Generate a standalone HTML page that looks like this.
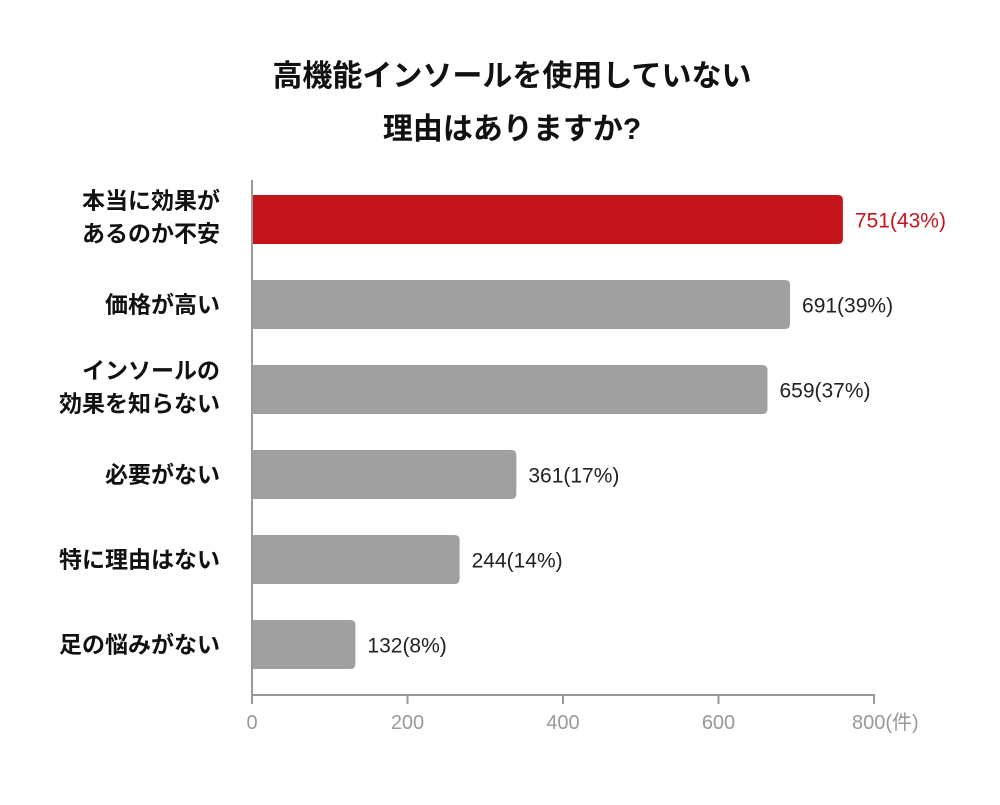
<!DOCTYPE html>
<html><head><meta charset="utf-8">
<style>
html,body{margin:0;padding:0;background:#fff;}
body{width:1000px;height:800px;overflow:hidden;font-family:"Liberation Sans","Noto Sans CJK JP",sans-serif;}
</style></head>
<body>
<svg id="chart" width="1000" height="800" xmlns="http://www.w3.org/2000/svg" font-family="Liberation Sans, Noto Sans CJK JP, sans-serif">
<text x="512" y="86" text-anchor="middle" font-size="30" font-weight="bold" fill="#111">高機能インソールを使用していない</text>
<text x="512" y="139" text-anchor="middle" font-size="30" font-weight="bold" fill="#111">理由はありますか?</text>
<g id="bars"></g>
<line x1="252" y1="180" x2="252" y2="695" stroke="#999" stroke-width="2"/>
<line x1="252" y1="695" x2="875" y2="695" stroke="#999" stroke-width="2"/>
<g id="ticks"></g>
</svg>
<script>
const categories = [["本当に効果が","あるのか不安"],["価格が高い"],["インソールの","効果を知らない"],["必要がない"],["特に理由はない"],["足の悩みがない"]];
const values = [760, 692, 663, 340, 267, 133];
const valueLabels = ["751(43%)","691(39%)","659(37%)","361(17%)","244(14%)","132(8%)"];
const tickValues = [0, 200, 400, 600, 800];
const tickLabels = ["0","200","400","600","800(件)"];

const NS = "http://www.w3.org/2000/svg";
const x0 = 252, x1 = 874, maxV = 800;
const xScale = v => x0 + (v / maxV) * (x1 - x0);
const barTop = i => 195 + i * 85;
const barH = 49;
const bars = document.getElementById("bars");
const ticks = document.getElementById("ticks");

function mk(tag, attrs){ const e = document.createElementNS(NS, tag); for (const k in attrs) e.setAttribute(k, attrs[k]); return e; }

values.forEach((v, i) => {
  const w = xScale(v) - x0, y = barTop(i), r = 5;
  const color = i === 0 ? "#c4151c" : "#a0a0a0";
  const p = mk("path", {d:`M${x0},${y} H${x0+w-r} Q${x0+w},${y} ${x0+w},${y+r} V${y+barH-r} Q${x0+w},${y+barH} ${x0+w-r},${y+barH} H${x0} Z`, fill: color});
  
  
  bars.appendChild(p);
  const t = mk("text", {x: xScale(v) + 12, y: y + barH/2 + 8, "font-size": 21, fill: i === 0 ? "#c4151c" : "#222"});
  t.textContent = valueLabels[i];
  
  
  bars.appendChild(t);
  const lines = categories[i];
  const cy = y + barH/2;
  lines.forEach((ln, j) => {
    const ly = lines.length === 1 ? cy + 8 : cy - 6 + j * 33 - 5;
    const ct = mk("text", {x: 220, y: ly, "text-anchor": "end", "font-size": 23, "font-weight": "bold", fill: "#111"});
    ct.textContent = ln;
    
    
    bars.appendChild(ct);
  });
});

tickValues.forEach((tv, i) => {
  const x = xScale(tv);
  const l = mk("line", {x1: x, y1: 695, x2: x, y2: 704, stroke: "#999", "stroke-width": 2});
  
  
  ticks.appendChild(l);
  const t = mk("text", {x: i === tickValues.length - 1 ? x - 22 : x, y: 729, "font-size": 20, fill: "#999", "text-anchor": i === tickValues.length - 1 ? "start" : "middle"});
  t.textContent = tickLabels[i];
  
  
  ticks.appendChild(t);
});
</script>
</body></html>
